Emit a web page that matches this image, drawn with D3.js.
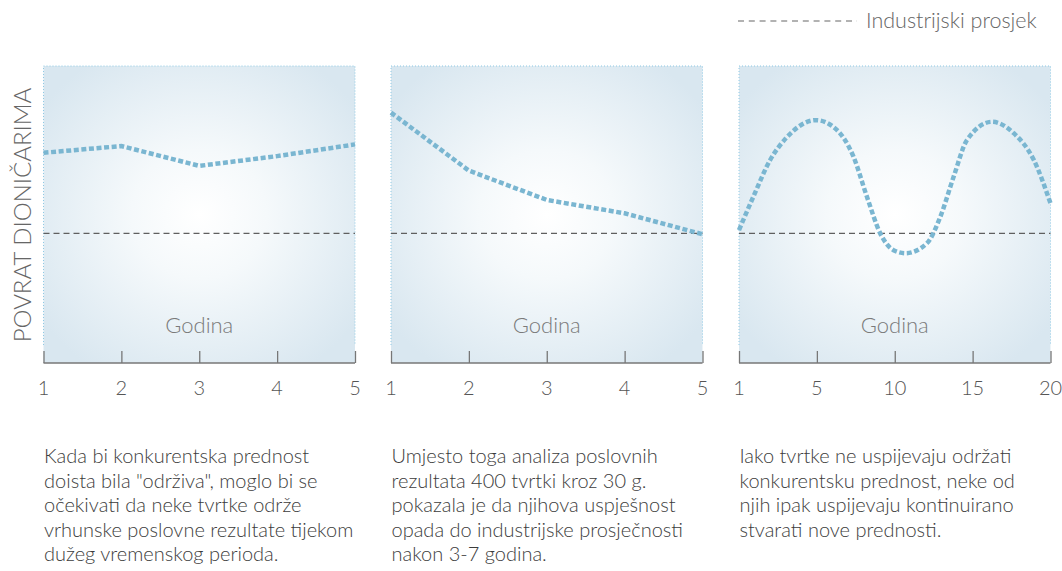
<!DOCTYPE html>
<html><head><meta charset="utf-8">
<script src="https://cdn.jsdelivr.net/npm/d3@7"></script>
<style>
body{margin:0;background:#fff;}
svg{display:block;font-family:"Lato","Open Sans",sans-serif;font-weight:300;}
</style></head>
<body><svg id="c" width="1062" height="571"></svg>
<script>
// ---- data ----
const yAxisTitle = "POVRAT DIONIČARIMA";
const xAxisTitle = "Godina";
const legendLabel = "Industrijski prosjek";
const industryAverage = 40;

const p1Years = [1, 2, 3, 4, 5];
const p1Values = [68.9, 71.3, 64.2, 67.7, 71.9];

const p2Years = [1, 2, 3, 4, 5];
const p2Values = [83.3, 62.5, 52, 47.2, 39.7];

const p3TickLabels = [1, 5, 10, 15, 20];
const p3Years = [1, 1.74, 2.6, 3.45, 4.95, 6.28, 7.35, 8.21, 9.07, 9.92, 10.7, 12.07, 12.93, 13.78, 14.64, 16.25, 17.64, 18.93, 20];
const p3Values = [41.2, 53.2, 66.3, 74.4, 80.6, 77.1, 67.5, 53.2, 40, 34, 32.9, 36.5, 46, 60.3, 73.5, 80, 75.9, 66.3, 50.8];

const captions = [
  ["Kada bi konkurentska prednost", "doista bila \"održiva\", moglo bi se", "očekivati da neke tvrtke održe", "vrhunske poslovne rezultate tijekom", "dužeg vremenskog perioda."],
  ["Umjesto toga analiza poslovnih", "rezultata 400 tvrtki kroz 30 g.", "pokazala je da njihova uspješnost", "opada do industrijske prosječnosti", "nakon 3-7 godina."],
  ["Iako tvrtke ne uspijevaju održati", "konkurentsku prednost, neke od", "njih ipak uspijevaju kontinuirano", "stvarati nove prednosti."]
];

// ---- layout ----
const svg = d3.select("#c");
const panelLefts = [43.5, 391, 739];
const panelW = 311.5;
const plotTop = 66, plotBottom = 345, axisY = 363;

const defs = svg.append("defs");
const grad = defs.append("radialGradient").attr("id", "bg")
  .attr("cx", "50%").attr("cy", "50%").attr("r", "62%");
grad.append("stop").attr("offset", "0%").attr("stop-color", "#ffffff");
grad.append("stop").attr("offset", "35%").attr("stop-color", "#f5f9fb");
grad.append("stop").attr("offset", "100%").attr("stop-color", "#d9e7f0");

const y = d3.scaleLinear().domain([0, 100]).range([plotBottom, plotTop]);

const panels = [
  {years: p1Years, values: p1Values, ticks: p1Years, curve: d3.curveLinear},
  {years: p2Years, values: p2Values, ticks: p2Years, curve: d3.curveLinear},
  {years: p3Years, values: p3Values, ticks: p3TickLabels, curve: d3.curveMonotoneX}
];

panels.forEach((p, i) => {
  const x0 = panelLefts[i], x1 = x0 + panelW;
  const n = p.ticks.length;
  const x = d3.scaleLinear().domain(p.ticks)
    .range(p.ticks.map((_, k) => x0 + k * panelW / (n - 1)));
  const g = svg.append("g");

  g.append("rect").attr("x", x0).attr("y", plotTop).attr("width", panelW).attr("height", axisY - plotTop)
    .attr("fill", "url(#bg)");
  g.append("path")
    .attr("d", `M${x0},${plotBottom} L${x0},${plotTop} L${x1},${plotTop} L${x1},${plotBottom}`)
    .attr("fill", "none").attr("stroke", "#8fc9e4").attr("stroke-width", 1)
    .attr("stroke-dasharray", "1,2");

  g.append("line").attr("x1", x0).attr("x2", x1)
    .attr("y1", y(industryAverage)).attr("y2", y(industryAverage))
    .attr("stroke", "#5f5f5f").attr("stroke-width", 1.2).attr("stroke-dasharray", "6,4");

  const line = d3.line().x((d, k) => x(p.years[k])).y(d => y(d)).curve(p.curve);
  g.append("path").attr("d", line(p.values))
    .attr("fill", "none").attr("stroke", "#7ab6d1").attr("stroke-width", 4.5)
    .attr("stroke-dasharray", "5,2.6");

  g.append("text").attr("x", (x0 + x1) / 2).attr("y", 333).attr("text-anchor", "middle")
    .attr("fill", "#7a7a7a").attr("font-size", 22).text(xAxisTitle);

  const ax = g.append("g").attr("transform", `translate(0,${axisY})`)
    .call(d3.axisTop(x).tickValues(p.ticks).tickSize(12).tickFormat(""));
  ax.select(".domain").attr("stroke", "#777").attr("stroke-width", 1.6)
    .attr("d", `M${x0},0H${x1}`);
  ax.selectAll(".tick line").attr("stroke", "#777").attr("stroke-width", 1.3);
  g.selectAll(".ticklab").data(p.ticks).enter().append("text")
    .attr("x", d => x(d)).attr("y", 395).attr("text-anchor", "middle")
    .attr("fill", "#555").attr("font-size", 20).text(d => d);

  const cap = g.append("text").attr("fill", "#3c3c3c").attr("font-size", 20);
  captions[i].forEach((t, k) => {
    cap.append("tspan").attr("x", x0 + 0.5).attr("y", 463 + k * 24.5).text(t);
  });
});

svg.append("text").attr("transform", "translate(31,215) rotate(-90)")
  .attr("text-anchor", "middle").attr("fill", "#666").attr("font-size", 24)
  .text(yAxisTitle);

svg.append("line").attr("x1", 738).attr("x2", 857).attr("y1", 21).attr("y2", 21)
  .attr("stroke", "#666").attr("stroke-width", 1.2).attr("stroke-dasharray", "6,4.8");
svg.append("text").attr("x", 866).attr("y", 28).attr("fill", "#666").attr("font-size", 21.5)
  .text(legendLabel);
</script>
</body></html>
